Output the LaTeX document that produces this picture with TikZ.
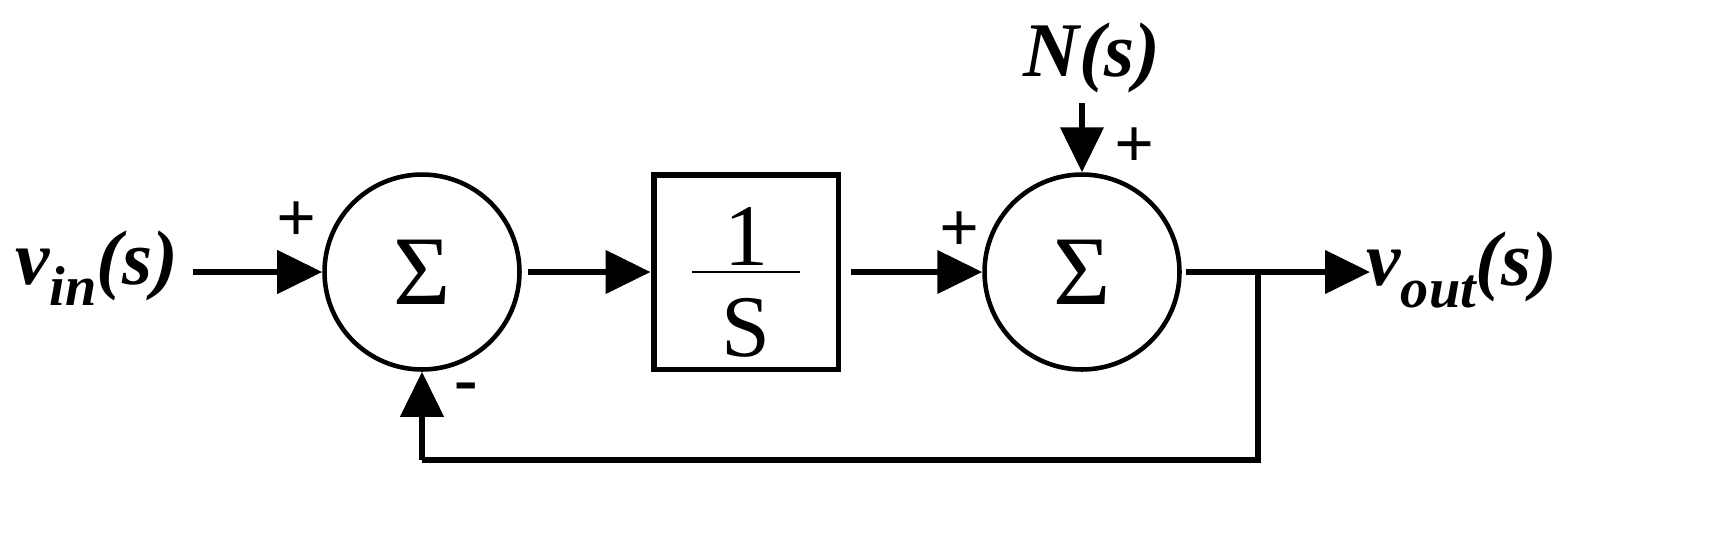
\documentclass[tikz,border=0pt]{standalone}
\usepackage{fontspec}
\setmainfont{Liberation Serif}
\usetikzlibrary{arrows.meta}
\newcommand{\mysub}[1]{\raisebox{-0.28em}{\fontsize{32}{36}\selectfont #1}}
\begin{document}
\begin{tikzpicture}[x=0.02cm,y=-0.02cm,
  ln/.style={line width=3.4pt},
  arr/.style={ln,-{Triangle[length=0.9cm,width=0.85cm]}},
  sumc/.style={circle,draw,line width=2.6pt,minimum size=3.9cm,inner sep=0pt,font=\fontsize{56}{60}\selectfont},
  lbl/.style={font=\fontsize{44}{52}\selectfont\bfseries\itshape},
  sgn/.style={font=\fontsize{40}{46}\selectfont\bfseries}]
\useasboundingbox (0,0) rectangle (1723,539);
\node[lbl] (vin) at (97,268) {v\mysub{in}(s)};
\node[sumc] (s1) at (422,272) {Σ};
\node[draw,line width=3.4pt,minimum width=3.7cm,minimum height=3.9cm] (blk) at (746,272) {};
\node[font=\fontsize{50}{56}\selectfont] (one) at (746,236) {1};
\node[font=\fontsize{50}{56}\selectfont] (S) at (746,328) {S};
\draw[line width=1.2pt] (692,272) -- (800,272);
\node[sumc] (s2) at (1082,272) {Σ};
\node[lbl] (N) at (1092,58) {N(s)};
\node[lbl] (vout) at (1462,270) {v\mysub{out}(s)};
\node[sgn] (p1) at (297,222) {+};
\node[sgn] (m1) at (466,393) {-};
\node[sgn] (p2) at (960,232) {+};
\node[sgn] (p3) at (1135,148) {+};
\coordinate (a0) at (193,272);
\coordinate (ntop) at (1082,103);
\coordinate (j) at (1258,272);
\coordinate (fb) at (1258,460);
\coordinate (fb2) at (422,460);
\coordinate (o) at (1370,272);
\draw[arr] (a0) -- (s1.west);
\draw[arr] ([xshift=0.12cm]s1.east) -- (blk.west);
\draw[arr] ([xshift=0.2cm]blk.east) -- (s2.west);
\draw[arr] (ntop) -- (s2.north);
\draw[arr] ([xshift=0.08cm]s2.east) -- (o);
\draw[ln] (j) -- (fb) -- (fb2);
\draw[arr] (fb2) -- (s1.south);
\end{tikzpicture}
\end{document}
